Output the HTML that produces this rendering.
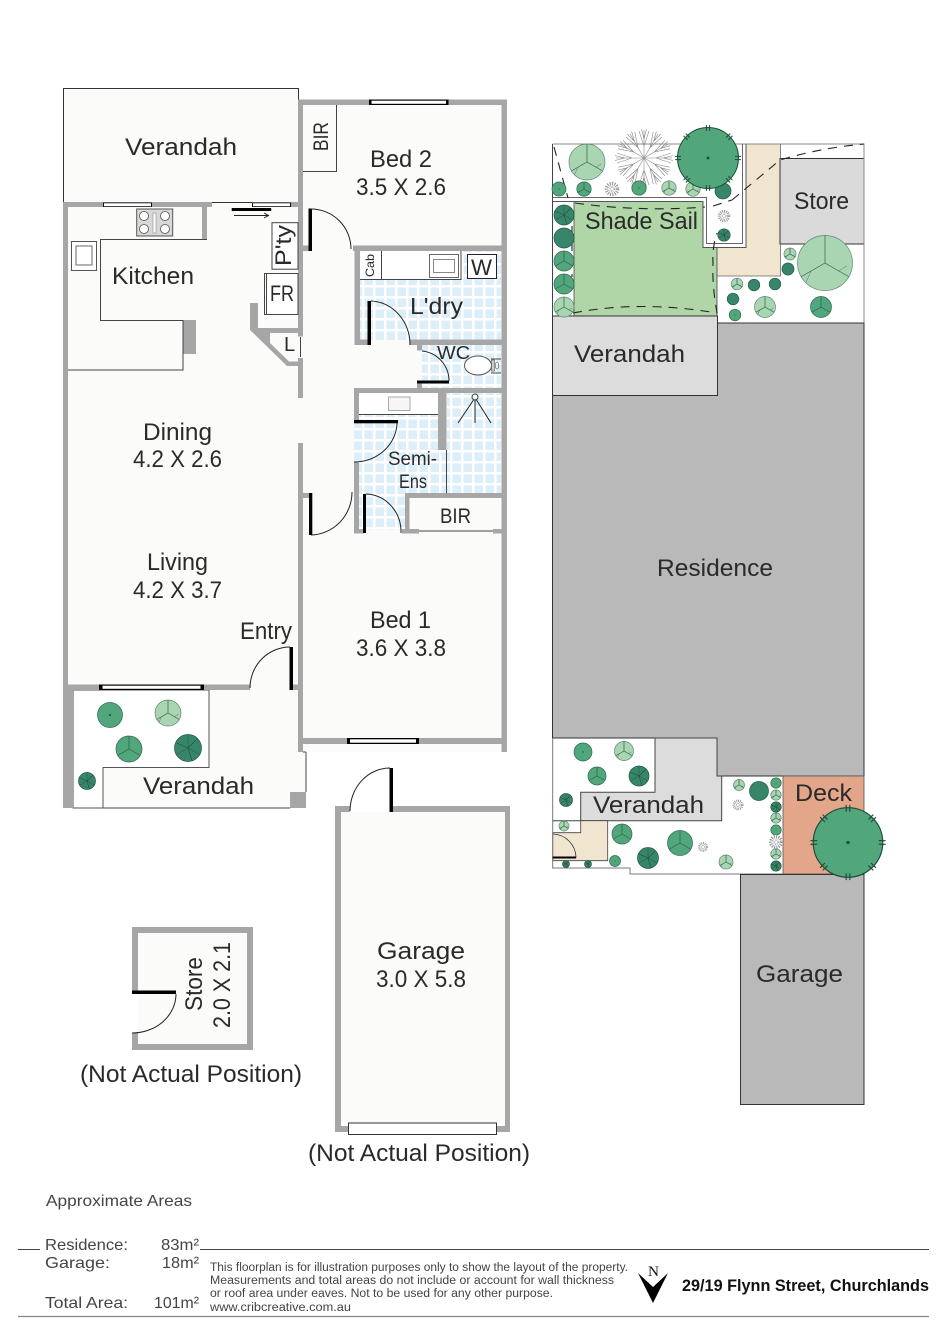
<!DOCTYPE html>
<html><head><meta charset="utf-8"><style>
html,body{margin:0;padding:0;background:#fff;width:946px;height:1338px;overflow:hidden}
svg{display:block}
text{font-family:"Liberation Sans",sans-serif;fill:#2a2a2a;font-size:24px}
.w{fill:#a6a6a6}.k{fill:#000}
.l{fill:none;stroke:#444;stroke-width:1}
.a{fill:none;stroke:#222;stroke-width:1}
.d{fill:none;stroke:#222;stroke-width:1.1;stroke-dasharray:9 7}
</style></head><body>
<svg width="946" height="1338" viewBox="0 0 946 1338" xmlns="http://www.w3.org/2000/svg">
<defs>
<pattern id="tile" width="11" height="11" patternUnits="userSpaceOnUse"><rect width="11" height="11" fill="#fff"/><rect x="1.5" y="1.5" width="8.5" height="8.5" fill="#dceef8"/></pattern>
<g id="seg"><path d="M0 0L0 -10M0 0L8.7 5M0 0L-8.7 5" fill="none" stroke="#2f5f48" stroke-width=".7" vector-effect="non-scaling-stroke"/></g>
<g id="tl"><circle r="10" fill="#a9d5b3" stroke="#5d8a70" stroke-width=".7" vector-effect="non-scaling-stroke"/><use href="#seg"/><path d="M-5 2.900L-7 7.100M5 2.900L8 1" fill="none" stroke="#4e7a60" stroke-width=".5" vector-effect="non-scaling-stroke"/></g>
<g id="tm"><circle r="10" fill="#51a67c" stroke="#2e6a4e" stroke-width=".7" vector-effect="non-scaling-stroke"/><use href="#seg"/></g>
<g id="td"><circle r="10" fill="#38866a" stroke="#1f5a44" stroke-width=".7" vector-effect="non-scaling-stroke"/><use href="#seg"/><path d="M0 0L-9 -4M0 0L7 -7M0 0L3 9.500" fill="none" stroke="#1f4d3a" stroke-width=".6" vector-effect="non-scaling-stroke"/></g>
<g id="ms"><circle r="10" fill="#51a67c" stroke="#2e6a4e" stroke-width=".7" vector-effect="non-scaling-stroke"/><circle r=".8" fill="#1e4a36"/></g>
<g id="ds"><circle r="10" fill="#38866a" stroke="#1f5a44" stroke-width=".7" vector-effect="non-scaling-stroke"/></g>
<g id="sp"><circle r="10" fill="#fff"/><circle r="7.500" fill="none" stroke="#999" stroke-width="5" stroke-dasharray="1.600 1.600"/><circle r="3" fill="none" stroke="#999" stroke-width="2" stroke-dasharray="1.200 1.200"/></g>
<g id="fk"><path d="M0 0L0 -28M0 -12L-5 -27M0 -12L5 -27M0 -19L-2.500 -29M0 -19L2.500 -29" fill="none" stroke="#8a8a8a" stroke-width=".6"/></g>
<g id="star"><use href="#fk"/><use href="#fk" transform="rotate(30)"/><use href="#fk" transform="rotate(60)"/><use href="#fk" transform="rotate(90)"/><use href="#fk" transform="rotate(120)"/><use href="#fk" transform="rotate(150)"/><use href="#fk" transform="rotate(180)"/><use href="#fk" transform="rotate(210)"/><use href="#fk" transform="rotate(240)"/><use href="#fk" transform="rotate(270)"/><use href="#fk" transform="rotate(300)"/><use href="#fk" transform="rotate(330)"/></g>
<g id="h"><path d="M27 -1.600H33M27 1.600H33" stroke="#1f4a36" stroke-width="1" fill="none"/></g>
<g id="big"><circle r="30.500" fill="#51a67c" stroke="#1f4a36" stroke-width="1"/><circle r="1.400" fill="#1e4a36"/><use href="#h"/><use href="#h" transform="rotate(45)"/><use href="#h" transform="rotate(90)"/><use href="#h" transform="rotate(135)"/><use href="#h" transform="rotate(180)"/><use href="#h" transform="rotate(225)"/><use href="#h" transform="rotate(270)"/><use href="#h" transform="rotate(315)"/></g>
</defs>

<!-- floors -->
<rect x="63" y="100" width="444" height="652" fill="#fbfbf9"/>
<rect x="63.500" y="88.500" width="235" height="114" fill="#fbfbf9" stroke="#333"/>
<rect x="298" y="752" width="8" height="56" fill="#fbfbf9"/>
<rect x="73" y="690" width="233" height="118" fill="#fbfbf9"/>
<rect x="303" y="752" width="210" height="10" fill="#fff"/>
<path d="M73 690H209V767.500H103V808H73Z" fill="#fff" stroke="#555"/>
<path d="M103 808H290M306 752V792M303 752H306" class="l"/>
<rect x="290" y="792" width="16" height="16" class="w"/>

<!-- tiles -->
<rect x="360" y="280" width="141" height="60" fill="url(#tile)"/>
<rect x="422" y="345" width="79" height="43" fill="url(#tile)"/>
<rect x="354" y="414" width="84" height="80" fill="url(#tile)"/>
<rect x="354" y="440" width="92" height="54" fill="url(#tile)"/>
<rect x="359" y="494" width="46" height="36" fill="url(#tile)"/>
<rect x="447" y="393" width="54" height="100" fill="url(#tile)"/>

<!-- benches -->
<rect x="360" y="251" width="141" height="29" fill="url(#tile)"/>
<rect x="360" y="251" width="101" height="29" fill="#fff"/>
<path d="M360 279.500H461V251" class="l" stroke-width="1.500"/>
<path d="M381.500 251V279" class="l"/>
<rect x="429.500" y="254.500" width="29" height="23" fill="#fff" stroke="#666"/>
<rect x="433.500" y="259.500" width="21" height="13" fill="#fff" stroke="#888"/>
<rect x="467.500" y="254.500" width="29" height="24" fill="#fff" stroke="#222"/>
<rect x="359" y="393" width="79" height="21" fill="#fff"/>
<path d="M359 414.500H438" class="l"/>
<rect x="388.500" y="397" width="21.500" height="13.500" fill="#f6f6f6" stroke="#aaa"/>
<path d="M446.500 450V493" class="l"/>

<!-- walls -->
<rect class="w" x="298" y="99.500" width="209" height="5.500"/>
<rect class="w" x="501.500" y="99.500" width="5.500" height="652.500"/>
<rect class="w" x="298" y="99.500" width="5" height="237"/>
<rect class="w" x="298" y="358" width="5" height="40"/>
<rect class="w" x="298" y="443" width="5" height="309"/>
<rect class="w" x="298" y="738" width="209" height="6"/>
<rect class="w" x="63" y="202" width="149" height="5"/>
<rect class="w" x="202" y="202" width="5" height="37"/>
<rect class="w" x="252" y="202" width="46.500" height="5"/>
<rect class="w" x="63" y="202" width="5" height="488"/>
<rect class="w" x="63" y="685" width="10" height="123"/>
<rect class="w" x="63" y="684.500" width="187" height="5.500"/>
<rect class="w" x="293" y="684.500" width="5" height="5.500"/>
<rect class="w" x="183" y="320" width="13" height="34"/>
<path class="w" d="M250 303H258V328H303V333H270V343L289 361.500H303V366H287L250 330Z"/>
<rect class="w" x="353" y="245.500" width="154" height="5.500"/>
<rect class="w" x="303" y="245.500" width="6" height="5.500"/>
<rect class="w" x="354.500" y="245.500" width="5.500" height="99.500"/>
<rect class="w" x="410" y="339.500" width="97" height="5.500"/>
<rect class="w" x="354.500" y="339.500" width="13" height="5.500"/>
<rect class="w" x="417" y="339.500" width="5" height="11"/>
<rect class="w" x="417" y="381" width="5" height="7"/>
<rect class="w" x="354" y="388" width="153" height="5"/>
<rect class="w" x="354" y="388" width="5" height="32"/>
<rect class="w" x="354" y="462.500" width="5" height="71"/>
<rect class="w" x="438" y="393" width="8.500" height="57"/>
<rect class="w" x="405" y="493" width="102" height="5"/>
<rect class="w" x="405" y="493" width="4.500" height="40"/>
<rect class="w" x="402" y="529" width="17" height="4.500"/>
<rect class="w" x="493" y="529" width="14" height="4.500"/>
<rect class="w" x="303" y="493" width="6" height="5"/>
<path d="M419 531H493" class="l"/>
<rect class="w" x="354" y="529" width="10" height="4.500"/>

<!-- windows -->
<rect x="369" y="99.500" width="79.500" height="5.500" fill="#000"/><rect x="371.500" y="100.700" width="74.500" height="3.100" fill="#fff"/>
<rect x="103" y="202.500" width="49" height="4.500" fill="#111"/><rect x="104" y="203.300" width="47" height="2.900" fill="#fff"/>
<rect x="252" y="202.500" width="39" height="4.500" fill="#111"/><rect x="253" y="203.300" width="37" height="2.900" fill="#fff"/>
<rect x="99" y="684.500" width="105" height="5.500" fill="#000"/><rect x="102.500" y="685.700" width="98" height="3.100" fill="#fff"/>
<rect x="347" y="738" width="72" height="6" fill="#000"/><rect x="350" y="739.300" width="66" height="3.400" fill="#fff"/>

<!-- kitchen -->
<path d="M207 239.500H100.500V320.500H183V370H68" class="l"/>
<rect x="136.700" y="209" width="36" height="27" fill="#d8d8d8" stroke="#555"/>
<g fill="#fff" stroke="#555" stroke-width=".8"><circle cx="144" cy="216" r="4.500"/><circle cx="165" cy="216" r="4.500"/><circle cx="144" cy="229" r="4.500"/><circle cx="165" cy="229" r="4.500"/></g>
<rect x="153" y="213" width="3" height="20" fill="#fff" stroke="#888" stroke-width=".6"/>
<rect x="71.500" y="241.500" width="25" height="29" fill="#fff" stroke="#555"/>
<rect x="76" y="246" width="16" height="19" fill="#fff" stroke="#666"/>
<rect x="231.700" y="208" width="39.500" height="3" class="k"/>
<path d="M234 215.500H268M264 213L268.500 215.500L264 218" class="a" stroke-width=".8"/>
<rect x="272" y="222.700" width="26" height="46.500" fill="#fff" stroke="#444"/>
<rect x="264.500" y="273.500" width="33.500" height="41" fill="#fff" stroke="#444"/>
<path d="M266.500 273.500V314" class="l"/>
<path d="M300.500 337V357" class="l"/>

<!-- toilet + shower -->
<ellipse cx="478" cy="365.500" rx="13.500" ry="9.500" fill="#fff" stroke="#555"/>
<path d="M491 359H501M491 373H501" class="l"/>
<rect x="491.500" y="360" width="3" height="11" fill="#ccc" stroke="#555" stroke-width=".6"/>
<ellipse cx="497" cy="365.500" rx="1.800" ry="3.500" fill="none" stroke="#555" stroke-width=".6"/>
<circle cx="475" cy="397" r="3" fill="#fff" stroke="#333"/>
<path d="M473.500 400L458 423M476.500 400L491 423M475 400V423" class="a"/>

<!-- doors -->
<rect x="308.500" y="208.500" width="3.500" height="42.500" class="k"/>
<path d="M311 209A40 40 0 0 1 351 249" class="a"/>
<rect x="367.500" y="301" width="3.500" height="44" class="k"/>
<path d="M371 301A40 44 0 0 1 410 345" class="a"/>
<path d="M422 351A30 30 0 0 1 449 381" class="a"/>
<rect x="417" y="380.500" width="32" height="3" class="k"/>
<rect x="354" y="420" width="44" height="3.300" class="k"/>
<path d="M397 423A43 40 0 0 1 354 462" class="a"/>
<rect x="363" y="494" width="3" height="39" class="k"/>
<path d="M366 494A36 38 0 0 1 401 533" class="a"/>
<rect x="309" y="493" width="3.300" height="42" class="k"/>
<path d="M352 492A42 43 0 0 1 311 535" class="a"/>
<rect x="289.500" y="647" width="3.500" height="43" class="k"/>
<path d="M290 647A40 41 0 0 0 250 688" class="a"/>

<!-- bed 2 BIR -->
<path d="M303 171.500H336.500V105" class="l"/>

<!-- garage -->
<path class="w" d="M335 806H350V812H341V1126H505V812H393V806H510V1132H335Z"/>
<rect x="341" y="812" width="164" height="311" fill="#fbfbf9"/>
<rect x="348.500" y="1123" width="148" height="11.500" fill="#fff" stroke="#333"/>
<rect x="389.500" y="768" width="3.500" height="44" class="k"/>
<path d="M390 768A40 43 0 0 0 350 811" class="a"/>

<!-- store -->
<rect x="138" y="933" width="109" height="111" fill="#fbfbf9"/>
<path class="w" d="M132 927H253V1050H132V1033H138V1044H247V933H138V991H132Z"/>
<rect x="132" y="990.500" width="44" height="3.500" class="k"/>
<path d="M176 994A44 39 0 0 1 132 1033" class="a"/>

<!-- SITE PLAN -->
<path d="M746 144H780V276H717V247H746Z" fill="#f0e5cf"/>
<path d="M574 201.500H703V247.500H717V316H574Z" fill="#b0d6a8" stroke="#444" stroke-width=".8"/>
<rect x="780" y="158.500" width="84" height="85.500" fill="#dadada" stroke="#333"/>
<path d="M552.500 144H864V323" fill="none" stroke="#888"/>
<path d="M780.500 144V158M780.500 244V276H717" fill="none" stroke="#666" stroke-width=".8"/>
<path d="M552.500 197.500H706.500V243.500H742.500V144" fill="none" stroke="#666"/>
<path d="M552.500 201.500H703V247.500H746V144" fill="none" stroke="#555"/>
<path d="M552.500 144V320" fill="none" stroke="#444"/>
<path d="M552.500 395.500V316H717.500V395.500Z" fill="#dcdcdc" stroke="#333"/>
<path d="M552.500 395.500H717.500V323H864V776H717V738H552.500Z" fill="#b9b9b9" stroke="#333"/>
<path d="M655 738H717V776H721.700V820.700H580.700V792.300H655Z" fill="#dcdcdc" stroke="#444"/>
<path d="M552.700 832.700H580.700V820.700H607.700V860.700H552.700Z" fill="#f0e5cf" stroke="#444" stroke-width=".8"/>
<path d="M552.700 738V868H630V874H783" fill="none" stroke="#777"/>
<path d="M552.700 820.700H580.700" class="l"/>
<path d="M553 834A24 24 0 0 1 576 857" fill="none" stroke="#333" stroke-width=".8"/>
<rect x="552.700" y="856.500" width="23.500" height="2" fill="#000"/>
<rect x="783" y="776" width="81" height="98" fill="#e3a68b" stroke="#555" stroke-width=".8"/>
<rect x="740.500" y="874.500" width="123.500" height="230" fill="#b9b9b9" stroke="#333"/>

<!-- dashes -->
<path class="d" d="M554 147L568 198M572 210V277M575 203Q640 212 705 207M713 206L732 200M732 200L780 160Q820 148 864 144M573 313Q640 300 717 313Q712 285 713 263Q712 248 717 233"/>

<!-- trees top -->
<use href="#tl" transform="translate(587 162) scale(1.800)"/>
<use href="#star" transform="translate(644 158)"/>
<use href="#ms" transform="translate(559 189) scale(.700)"/>
<use href="#tm" transform="translate(584 189) scale(.720)"/>
<use href="#sp" transform="translate(612 189) scale(.720)"/>
<use href="#ms" transform="translate(639 188) scale(.720)"/>
<use href="#tl" transform="translate(669 188) scale(.720)"/>
<use href="#tl" transform="translate(693 189) scale(.720)"/>
<use href="#ds" transform="translate(723 191) scale(.800)"/>
<use href="#big" transform="translate(708 158)"/>
<use href="#sp" transform="translate(724 216) scale(.620)"/>
<use href="#td" transform="translate(724 235) scale(.620)"/>
<use href="#td" transform="translate(564 215)"/>
<use href="#ds" transform="translate(564 238)"/>
<use href="#tm" transform="translate(564 261)"/>
<use href="#tm" transform="translate(564 284)"/>
<use href="#tl" transform="translate(564 307)"/>
<use href="#tl" transform="translate(825 263) scale(2.750)"/>
<use href="#tl" transform="translate(790 254) scale(.600)"/>
<use href="#ds" transform="translate(788 269) scale(.600)"/>
<use href="#tl" transform="translate(737 284) scale(.580)"/>
<use href="#ds" transform="translate(754 285) scale(.580)"/>
<use href="#ds" transform="translate(775 284) scale(.580)"/>
<use href="#ds" transform="translate(733 299) scale(.580)"/>
<use href="#ms" transform="translate(735 315) scale(.580)"/>
<use href="#tl" transform="translate(765 307) scale(1.050)"/>
<use href="#tm" transform="translate(821 307) scale(1.050)"/>
<!-- trees bottom -->
<use href="#ms" transform="translate(583 752) scale(.900)"/>
<use href="#tl" transform="translate(624 751) scale(.950)"/>
<use href="#tm" transform="translate(597 776) scale(.900)"/>
<use href="#td" transform="translate(639 776) scale(1)"/>
<use href="#td" transform="translate(566 800) scale(.650)"/>
<use href="#tl" transform="translate(564 826) scale(.500)"/>
<use href="#td" transform="translate(566 864) scale(.350)"/>
<use href="#td" transform="translate(588 864) scale(.350)"/>
<use href="#tm" transform="translate(622 834) scale(1)"/>
<use href="#ms" transform="translate(615 861) scale(.550)"/>
<use href="#td" transform="translate(648 858) scale(1.050)"/>
<use href="#tm" transform="translate(680 843) scale(1.250)"/>
<use href="#sp" transform="translate(703 847) scale(.500)"/>
<use href="#tl" transform="translate(726 862) scale(.700)"/>
<use href="#tl" transform="translate(739 785) scale(.550)"/>
<use href="#ds" transform="translate(759 791) scale(.950)"/>
<use href="#sp" transform="translate(738 805) scale(.550)"/>
<use href="#ms" transform="translate(776 783) scale(.520)"/>
<use href="#tl" transform="translate(776 795) scale(.520)"/>
<use href="#td" transform="translate(776 807) scale(.520)"/>
<use href="#tl" transform="translate(776 818) scale(.520)"/>
<use href="#ms" transform="translate(776 830) scale(.520)"/>
<use href="#sp" transform="translate(776 842) scale(.700)"/>
<use href="#tl" transform="translate(776 854) scale(.520)"/>
<use href="#td" transform="translate(776 866) scale(.520)"/>
<use href="#big" transform="translate(848 842.500) scale(1.140)"/>
<!-- verandah trees -->
<use href="#ms" transform="translate(110 715) scale(1.250)"/>
<use href="#tl" transform="translate(168 713) scale(1.300)"/>
<use href="#tm" transform="translate(129 749) scale(1.300)"/>
<use href="#td" transform="translate(188 748) scale(1.350)"/>
<use href="#td" transform="translate(87 781) scale(.850)"/>

<!-- labels -->
<text x="125" y="155" textLength="112" lengthAdjust="spacingAndGlyphs">Verandah</text>
<text x="370" y="167" textLength="62" lengthAdjust="spacingAndGlyphs">Bed 2</text>
<text x="356" y="195" textLength="90" lengthAdjust="spacingAndGlyphs">3.5 X 2.6</text>
<text transform="translate(328 151) rotate(-90)" textLength="29" lengthAdjust="spacingAndGlyphs" style="font-size:21px">BIR</text>
<text x="112" y="284" textLength="82" lengthAdjust="spacingAndGlyphs">Kitchen</text>
<text transform="translate(291 266) rotate(-90)" textLength="41" lengthAdjust="spacingAndGlyphs" style="font-size:22px">P'ty</text>
<text x="270" y="301" textLength="24" lengthAdjust="spacingAndGlyphs" style="font-size:22px">FR</text>
<text x="284" y="351" style="font-size:20px">L</text>
<text transform="translate(374 277) rotate(-90)" textLength="23" lengthAdjust="spacingAndGlyphs" style="font-size:12px">Cab</text>
<text x="471" y="275" textLength="21" lengthAdjust="spacingAndGlyphs" style="font-size:22px">W</text>
<text x="410" y="314" textLength="53" lengthAdjust="spacingAndGlyphs" style="font-size:23px">L'dry</text>
<text x="437" y="359" textLength="33" lengthAdjust="spacingAndGlyphs" style="font-size:18px">WC</text>
<text x="388" y="465" textLength="49" lengthAdjust="spacingAndGlyphs" style="font-size:19px">Semi-</text>
<text x="399" y="488" textLength="28" lengthAdjust="spacingAndGlyphs" style="font-size:19px">Ens</text>
<text x="440" y="523" textLength="31" lengthAdjust="spacingAndGlyphs" style="font-size:21px">BIR</text>
<text x="143" y="440" textLength="69" lengthAdjust="spacingAndGlyphs">Dining</text>
<text x="133" y="467" textLength="89" lengthAdjust="spacingAndGlyphs">4.2 X 2.6</text>
<text x="147" y="570" textLength="61" lengthAdjust="spacingAndGlyphs">Living</text>
<text x="133" y="598" textLength="89" lengthAdjust="spacingAndGlyphs">4.2 X 3.7</text>
<text x="240" y="639" textLength="52" lengthAdjust="spacingAndGlyphs">Entry</text>
<text x="370" y="628" textLength="61" lengthAdjust="spacingAndGlyphs">Bed 1</text>
<text x="356" y="656" textLength="90" lengthAdjust="spacingAndGlyphs">3.6 X 3.8</text>
<text x="143" y="794" textLength="111" lengthAdjust="spacingAndGlyphs">Verandah</text>
<text x="377" y="959" textLength="88" lengthAdjust="spacingAndGlyphs">Garage</text>
<text x="376" y="987" textLength="90" lengthAdjust="spacingAndGlyphs">3.0 X 5.8</text>
<text transform="translate(202 1011) rotate(-90)" textLength="54" lengthAdjust="spacingAndGlyphs">Store</text>
<text transform="translate(230 1028) rotate(-90)" textLength="86" lengthAdjust="spacingAndGlyphs">2.0 X 2.1</text>
<text x="80" y="1082" textLength="222" lengthAdjust="spacingAndGlyphs">(Not Actual Position)</text>
<text x="308" y="1161" textLength="222" lengthAdjust="spacingAndGlyphs">(Not Actual Position)</text>
<text x="585" y="229" textLength="113" lengthAdjust="spacingAndGlyphs">Shade Sail</text>
<text x="794" y="209" textLength="55" lengthAdjust="spacingAndGlyphs">Store</text>
<text x="574" y="362" textLength="111" lengthAdjust="spacingAndGlyphs">Verandah</text>
<text x="657" y="576" textLength="116" lengthAdjust="spacingAndGlyphs">Residence</text>
<text x="593" y="813" textLength="111" lengthAdjust="spacingAndGlyphs">Verandah</text>
<text x="795" y="801" textLength="57" lengthAdjust="spacingAndGlyphs">Deck</text>
<text x="756" y="982" textLength="87" lengthAdjust="spacingAndGlyphs">Garage</text>

<!-- footer -->
<text x="46" y="1206" textLength="146" lengthAdjust="spacingAndGlyphs" style="font-size:16px;fill:#444">Approximate Areas</text>
<text x="45" y="1250" textLength="83" lengthAdjust="spacingAndGlyphs" style="font-size:16px;fill:#444">Residence:</text>
<text x="161" y="1250" textLength="38" lengthAdjust="spacingAndGlyphs" style="font-size:16px;fill:#444">83m²</text>
<text x="45" y="1268" textLength="65" lengthAdjust="spacingAndGlyphs" style="font-size:16px;fill:#444">Garage:</text>
<text x="162" y="1268" textLength="37" lengthAdjust="spacingAndGlyphs" style="font-size:16px;fill:#444">18m²</text>
<text x="45" y="1308" textLength="83" lengthAdjust="spacingAndGlyphs" style="font-size:16px;fill:#444">Total Area:</text>
<text x="154" y="1308" textLength="45" lengthAdjust="spacingAndGlyphs" style="font-size:16px;fill:#444">101m²</text>
<path d="M18 1249.500H40M200 1249.500H929" stroke="#444" fill="none"/>
<path d="M18 1316.500H929" stroke="#888" stroke-width="1.200" fill="none"/>
<text x="210" y="1271" textLength="418" lengthAdjust="spacingAndGlyphs" style="font-size:11.500px;fill:#444">This floorplan is for illustration purposes only to show the layout of the property.</text>
<text x="210" y="1284" textLength="404" lengthAdjust="spacingAndGlyphs" style="font-size:11.500px;fill:#444">Measurements and total areas do not include or account for wall thickness</text>
<text x="210" y="1297" textLength="343" lengthAdjust="spacingAndGlyphs" style="font-size:11.500px;fill:#444">or roof area under eaves. Not to be used for any other purpose.</text>
<text x="210" y="1311" textLength="141" lengthAdjust="spacingAndGlyphs" style="font-size:11.500px;fill:#444">www.cribcreative.com.au</text>
<text x="648" y="1276" textLength="11" lengthAdjust="spacingAndGlyphs" style="font-family:'Liberation Serif',serif;font-size:15px;fill:#111">N</text>
<path d="M638 1273L653 1287L668 1273L653 1303Z" fill="#000"/>
<text x="682" y="1291" textLength="247" lengthAdjust="spacingAndGlyphs" style="font-size:16.500px;font-weight:bold;fill:#111">29/19 Flynn Street, Churchlands</text>
</svg>
</body></html>
